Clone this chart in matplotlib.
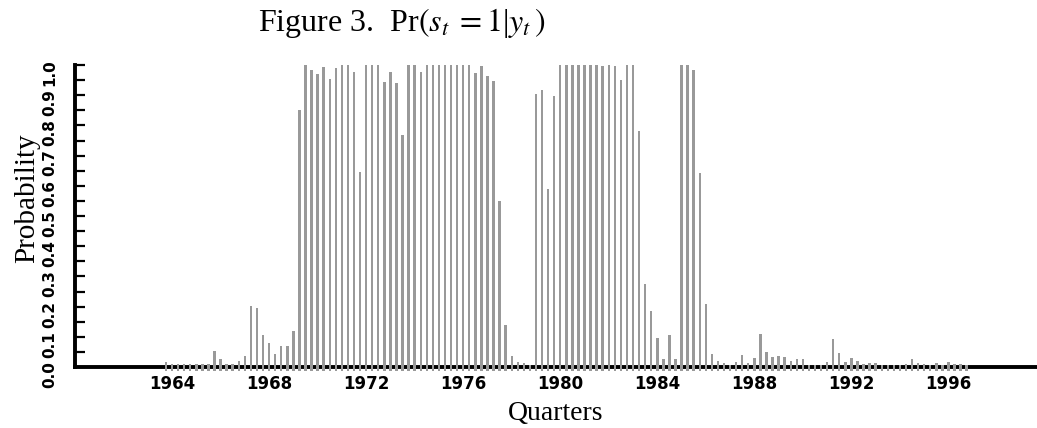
import numpy as np
import pandas as pd
import matplotlib
matplotlib.use("Agg")
import matplotlib.pyplot as plt
from matplotlib.ticker import MultipleLocator, FormatStrFormatter

plt.rcParams["mathtext.fontset"] = "stix"

# quarterly sample, 1963Q4 - 1996Q4
quarters = pd.period_range("1963Q4", "1996Q4", freq="Q")

prob = [
    0.017, 0.009, 0.009, 0.009, 0.009, 0.009, 0.009, 0.010, 0.054, 0.025,
    0.010, 0.010, 0.019, 0.037, 0.201, 0.194, 0.106, 0.080, 0.042, 0.071,
    0.068, 0.119, 0.852, 1.000, 0.984, 0.971, 0.995, 0.953, 0.990, 1.000,
    1.000, 0.976, 0.646, 1.000, 1.000, 1.000, 0.945, 0.976, 0.941, 0.767,
    1.000, 1.000, 0.978, 1.000, 1.000, 1.000, 1.000, 1.000, 1.000, 1.000,
    1.000, 0.972, 0.997, 0.963, 0.946, 0.551, 0.139, 0.037, 0.015, 0.012,
    0.007, 0.903, 0.916, 0.589, 0.897, 1.000, 1.000, 1.000, 1.000, 1.000,
    1.000, 1.000, 0.997, 1.000, 0.997, 0.949, 1.000, 1.000, 0.783, 0.276,
    0.185, 0.095, 0.026, 0.105, 0.028, 1.000, 1.000, 0.983, 0.642, 0.207,
    0.043, 0.020, 0.012, 0.007, 0.015, 0.039, 0.014, 0.029, 0.109, 0.051,
    0.033, 0.036, 0.032, 0.020, 0.025, 0.025, 0.007, 0.007, 0.007, 0.017,
    0.094, 0.045, 0.018, 0.029, 0.019, 0.009, 0.014, 0.012, 0.007, 0.006,
    0.007, 0.007, 0.009, 0.025, 0.012, 0.010, 0.007, 0.014, 0.007, 0.018,
    0.010, 0.010, 0.007,
]

year_ticks = [1964, 1968, 1972, 1976, 1980, 1984, 1988, 1992, 1996]

x = quarters.year + (quarters.quarter - 1) / 4.0
base = -0.012  # bars run a bit under the axis line, as in the original

fig = plt.figure(figsize=(10.37, 4.28), dpi=100)
ax = fig.add_axes([75 / 1037, 61 / 428, 962 / 1037, 302 / 428])

ax.bar(x, np.array(prob) - base, bottom=base, width=0.1, color="#999999",
       linewidth=0, zorder=3, clip_on=False)

ax.set_xlim(1960, 1999.65)
ax.set_ylim(0, 1)

for side in ["top", "right"]:
    ax.spines[side].set_visible(False)
for side in ["left", "bottom"]:
    ax.spines[side].set_linewidth(2.8)
    ax.spines[side].set_color("black")

ax.set_xticks(year_ticks)
ax.set_xticklabels([str(y) for y in year_ticks])
ax.tick_params(axis="x", length=0, pad=6, labelsize=12)
for lab in ax.get_xticklabels():
    lab.set_fontweight("bold")

ax.yaxis.set_major_locator(MultipleLocator(0.1))
ax.yaxis.set_minor_locator(MultipleLocator(0.05))
ax.yaxis.set_major_formatter(FormatStrFormatter("%.1f"))
ax.tick_params(axis="y", which="both", direction="in", length=7.5, width=1.6,
               pad=13, labelsize=11)
for lab in ax.get_yticklabels():
    lab.set_fontweight("bold")
    lab.set_rotation(90)

ax.set_ylabel("Probability", family="Liberation Serif", fontsize=21)
ax.yaxis.set_label_coords(-0.0364, 0.56)
ax.set_xlabel("Quarters", family="Liberation Serif", fontsize=20)
ax.xaxis.set_label_coords(0.5, -0.112)

fig.text(258 / 1037, 1 - 31 / 428,
         r"Figure 3.  Pr$(s_t\;=1$|$y_t\,)$",
         family="Liberation Serif", fontsize=23, ha="left", va="baseline")

plt.savefig("out.png", dpi=100)
